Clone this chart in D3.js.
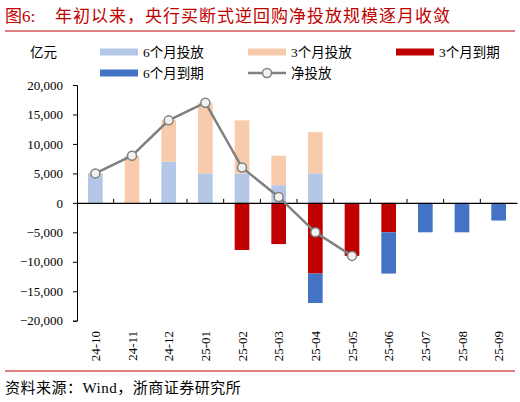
<!DOCTYPE html>
<html>
<head>
<meta charset="utf-8">
<script src="https://cdn.jsdelivr.net/npm/d3@7"></script>
<style>
  body { margin: 0; background: #fff; }
  text { font-family: "Liberation Serif", "Noto Sans CJK SC", serif; }
</style>
</head>
<body>
<svg id="chart" width="520" height="402"></svg>
<script>
var months = ["24-10", "24-11", "24-12", "25-01", "25-02", "25-03", "25-04", "25-05", "25-06", "25-07", "25-08", "25-09"]
var put6 = [5000, 0, 7000, 5000, 5000, 3000, 5000, 0, 0, 0, 0, 0]
var put3 = [0, 8000, 7000, 12000, 9000, 5000, 7000, 0, 0, 0, 0, 0]
var due3 = [0, 0, 0, 0, -8000, -7000, -12000, -9000, -5000, 0, 0, 0]
var due6 = [0, 0, 0, 0, 0, 0, -5000, 0, -7000, -5000, -5000, -3000]
var net = [5000, 8000, 14000, 17000, 6000, 1000, -5000, -9000]
var yTicks = [20000, 15000, 10000, 5000, 0, -5000, -10000, -15000, -20000]

var svg = d3.select("#chart")
var red = "#c00000"

svg.append("text")
  .attr("x", 5).attr("y", 22)
  .attr("fill", red)
  .attr("font-size", 17)
  .attr("font-family", "Noto Sans CJK SC")
  .text("图6:")
svg.append("text")
  .attr("x", 55).attr("y", 22)
  .attr("fill", red)
  .attr("font-size", 17)
  .attr("letter-spacing", 1)
  .attr("font-family", "Noto Sans CJK SC")
  .text("年初以来，央行买断式逆回购净投放规模逐月收敛")
svg.append("line")
  .attr("x1", 5).attr("x2", 515).attr("y1", 31).attr("y2", 31)
  .attr("stroke", red).attr("stroke-width", 1)

var x = d3.scaleBand().domain(months).range([77, 517]).paddingInner(0.6).paddingOuter(0.3)
var xStep = d3.scaleBand().domain(months).range([77, 517])
var y = d3.scaleLinear().domain([-20000, 20000]).range([320.7, 85])

// y axis
var yAxis = svg.append("g")
  .attr("transform", "translate(77,0)")
  .call(d3.axisLeft(y).tickValues(yTicks).tickSize(4).tickPadding(10).tickFormat(d3.format(",")))
yAxis.select(".domain").attr("stroke", "#000")
yAxis.selectAll("text").attr("font-size", 13).attr("fill", "#000")

// stacked bars
var series = [
  { name: "6个月投放", vals: put6, base: null, color: "#b4c7e7" },
  { name: "3个月投放", vals: put3, base: put6, color: "#f8cbad" },
  { name: "3个月到期", vals: due3, base: null, color: red },
  { name: "6个月到期", vals: due6, base: due3, color: "#4472c4" }
]
series.forEach(function (s) {
  svg.append("g").selectAll("rect")
    .data(months)
    .enter()
    .append("rect")
    .attr("x", function (d) { return x(d) })
    .attr("width", x.bandwidth())
    .attr("y", function (d, i) {
      var b = s.base ? s.base[i] : 0
      return Math.min(y(b), y(b + s.vals[i]))
    })
    .attr("height", function (d, i) {
      var b = s.base ? s.base[i] : 0
      return Math.abs(y(b) - y(b + s.vals[i]))
    })
    .attr("fill", s.color)
})

// x axis at zero
var xAxis = svg.append("g")
  .attr("transform", "translate(0," + y(0) + ")")
  .call(d3.axisBottom(xStep).tickSize(0).tickFormat(""))
xAxis.select(".domain").attr("stroke", "#000").attr("stroke-width", 1.2)
xAxis.selectAll(".tick").remove()
svg.append("g").selectAll("line")
  .data(months.slice(1))
  .enter()
  .append("line")
  .attr("x1", function (d) { return xStep(d) })
  .attr("x2", function (d) { return xStep(d) })
  .attr("y1", y(0)).attr("y2", y(0) - 4)
  .attr("stroke", "#000")

svg.append("g").selectAll("text")
  .data(months)
  .enter()
  .append("text")
  .attr("transform", function (d) { return "translate(" + (xStep(d) + xStep.bandwidth() / 2) + ",331) rotate(-90)" })
  .attr("text-anchor", "end")
  .attr("dy", "0.35em")
  .attr("font-size", 13)
  .text(function (d) { return d })

// net line
var line = d3.line()
  .x(function (d, i) { return xStep(months[i]) + xStep.bandwidth() / 2 })
  .y(function (d) { return y(d) })
svg.append("path")
  .datum(net)
  .attr("d", line)
  .attr("fill", "none")
  .attr("stroke", "#808080")
  .attr("stroke-width", 2.5)
svg.append("g").selectAll("circle")
  .data(net)
  .enter()
  .append("circle")
  .attr("cx", function (d, i) { return xStep(months[i]) + xStep.bandwidth() / 2 })
  .attr("cy", function (d) { return y(d) })
  .attr("r", 4.5)
  .attr("fill", "#f2f2f2")
  .attr("stroke", "#808080")
  .attr("stroke-width", 1.5)

// unit
svg.append("text").attr("x", 30).attr("y", 57).attr("font-size", 13.5).text("亿元")

// legend
var legend = [
  { name: "6个月投放", color: "#b4c7e7", x: 100, y: 52 },
  { name: "3个月投放", color: "#f8cbad", x: 248, y: 52 },
  { name: "3个月到期", color: red, x: 396, y: 52 },
  { name: "6个月到期", color: "#4472c4", x: 100, y: 73 }
]
legend.forEach(function (l) {
  svg.append("rect").attr("x", l.x).attr("y", l.y - 3.5).attr("width", 38).attr("height", 7).attr("fill", l.color)
  svg.append("text").attr("x", l.x + 43).attr("y", l.y + 5).attr("font-size", 13.5).text(l.name)
})
svg.append("line").attr("x1", 248).attr("x2", 286).attr("y1", 73).attr("y2", 73)
  .attr("stroke", "#808080").attr("stroke-width", 2.5)
svg.append("circle").attr("cx", 267).attr("cy", 73).attr("r", 4.5)
  .attr("fill", "#f2f2f2").attr("stroke", "#808080").attr("stroke-width", 1.5)
svg.append("text").attr("x", 291).attr("y", 78).attr("font-size", 13.5).text("净投放")

// footer
svg.append("line")
  .attr("x1", 5).attr("x2", 515).attr("y1", 371).attr("y2", 371)
  .attr("stroke", red).attr("stroke-width", 1)
svg.append("text").attr("x", 5).attr("y", 393).attr("font-size", 15).attr("letter-spacing", 0.5).text("资料来源：Wind，浙商证券研究所")
</script>
</body>
</html>
